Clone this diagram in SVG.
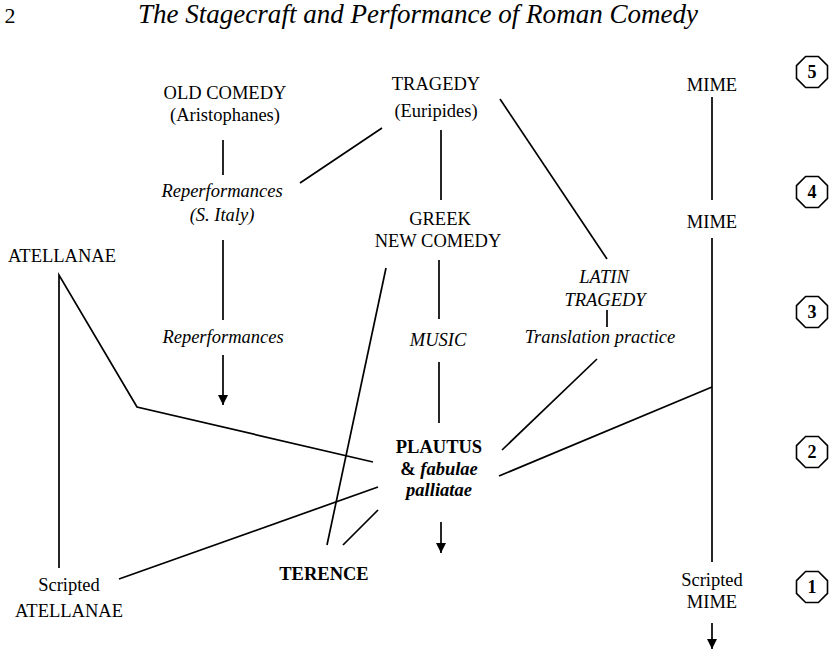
<svg xmlns="http://www.w3.org/2000/svg" width="836" height="656" viewBox="0 0 836 656" font-family="'Liberation Serif', 'DejaVu Serif', serif">
<style>
text{font-family:'Liberation Serif','DejaVu Serif',serif;font-size:18.5px;fill:#000;text-anchor:middle}
.i{font-style:italic}
.b{font-weight:bold}
.n{font-weight:bold;font-size:18px}
.c line,.c polyline{stroke:#000;stroke-width:1.7;fill:none}
.oct{fill:#fff;stroke:#000;stroke-width:1.6}
</style>
<defs>
<marker id="ah" markerUnits="userSpaceOnUse" markerWidth="10" markerHeight="12" refX="10" refY="5" orient="auto"><path d="M0,0 L10,5 L0,10 z" fill="#000"/></marker>
<polygon id="o" class="oct" points="-6.4,-15.5 6.4,-15.5 15.5,-6.4 15.5,6.4 6.4,15.5 -6.4,15.5 -15.5,6.4 -15.5,-6.4"/>
</defs>
<g id="header">
<text x="10" y="23" style="font-size:22px">2</text>
<text x="418" y="23" class="i" style="font-size:27px" textLength="560" lengthAdjust="spacingAndGlyphs">The Stagecraft and Performance of Roman Comedy</text>
</g>
<g id="connectors" class="c">
<line x1="223" y1="140" x2="223" y2="175"/>
<line x1="223" y1="240" x2="223" y2="320"/>
<line x1="223" y1="355" x2="223" y2="405" marker-end="url(#ah)"/>
<line x1="382" y1="128" x2="300" y2="183"/>
<line x1="441" y1="130" x2="441" y2="200"/>
<line x1="500" y1="99" x2="607" y2="259"/>
<line x1="439" y1="260" x2="439" y2="319"/>
<line x1="439" y1="362" x2="439" y2="423"/>
<line x1="607" y1="310" x2="607" y2="327"/>
<line x1="597" y1="359" x2="502" y2="450"/>
<line x1="386" y1="268" x2="327" y2="545"/>
<line x1="343" y1="545" x2="378" y2="510"/>
<polyline points="59,568 59,275 137,407 373,462"/>
<line x1="119" y1="579" x2="378" y2="487"/>
<line x1="441" y1="522" x2="441" y2="553" marker-end="url(#ah)"/>
<line x1="712" y1="97" x2="712" y2="200"/>
<line x1="712" y1="238" x2="712" y2="562"/>
<line x1="712" y1="387" x2="499" y2="476"/>
<line x1="712" y1="623" x2="712" y2="649" marker-end="url(#ah)"/>
</g>
<g id="old-comedy"><text x="225" y="99">OLD COMEDY</text><text x="225" y="121">(Aristophanes)</text></g>
<g id="reperf-italy"><text x="222" y="197" class="i">Reperformances</text><text x="222" y="221" class="i">(S. Italy)</text></g>
<g id="reperf"><text x="223" y="343" class="i">Reperformances</text></g>
<g id="tragedy"><text x="436" y="90">TRAGEDY</text><text x="436" y="117">(Euripides)</text></g>
<g id="greek-new-comedy"><text x="440" y="225">GREEK</text><text x="438" y="247">NEW COMEDY</text></g>
<g id="music"><text x="438" y="346" class="i">MUSIC</text></g>
<g id="latin-tragedy"><text x="604" y="283" class="i">LATIN</text><text x="605" y="306" class="i">TRAGEDY</text></g>
<g id="translation"><text x="600" y="343" class="i">Translation practice</text></g>
<g id="atellanae"><text x="62" y="262">ATELLANAE</text></g>
<g id="plautus"><text x="439" y="453" class="b">PLAUTUS</text><text x="439" y="475" class="b"><tspan>&amp; </tspan><tspan class="i">fabulae</tspan></text><text x="439" y="496" class="b i">palliatae</text></g>
<g id="terence"><text x="324" y="580" class="b">TERENCE</text></g>
<g id="scripted-atellanae"><text x="69" y="591">Scripted</text><text x="69" y="617">ATELLANAE</text></g>
<g id="mime-top"><text x="712" y="91">MIME</text></g>
<g id="mime-mid"><text x="712" y="228">MIME</text></g>
<g id="scripted-mime"><text x="712" y="586">Scripted</text><text x="712" y="608">MIME</text></g>
<g id="periods">
<g id="p5"><use href="#o" x="812" y="72"/><text x="812" y="78" class="n">5</text></g>
<g id="p4"><use href="#o" x="812" y="192"/><text x="812" y="198" class="n">4</text></g>
<g id="p3"><use href="#o" x="812" y="312"/><text x="812" y="318" class="n">3</text></g>
<g id="p2"><use href="#o" x="812" y="452"/><text x="812" y="458" class="n">2</text></g>
<g id="p1"><use href="#o" x="812" y="587"/><text x="812" y="593" class="n">1</text></g>
</g>
</svg>
